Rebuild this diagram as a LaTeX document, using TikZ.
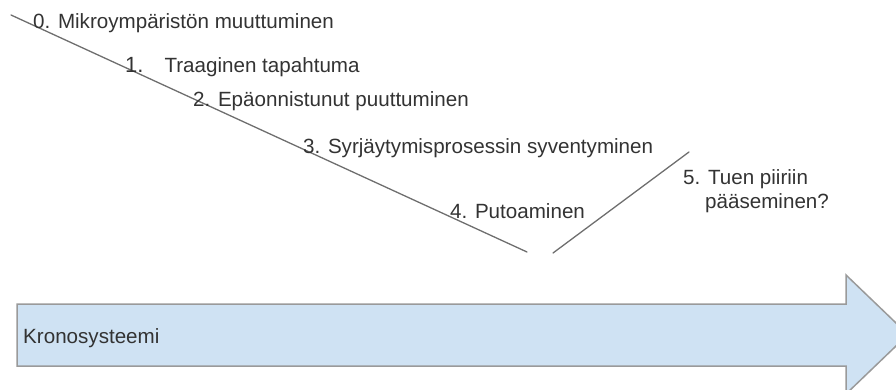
\documentclass[tikz,border=0pt]{standalone}
\usepackage{fontspec}
\setmainfont{Liberation Sans}
\definecolor{txt}{HTML}{333333}
\definecolor{ln}{HTML}{6E6E6E}
\definecolor{arrfill}{HTML}{CFE2F3}
\definecolor{arrdraw}{HTML}{9A9A9A}
\begin{document}
\begin{tikzpicture}[x=1pt,y=-1pt,
  lbl/.style={anchor=base west,inner sep=0pt,text=txt,font=\fontsize{20.6}{23}\selectfont},
  timeline/.style={draw=ln,line width=1.3pt,line cap=round}]
\useasboundingbox (0,0) rectangle (896,390);
\clip (0,0) rectangle (896,390);
% big arrow
\draw[fill=arrfill,draw=arrdraw,line width=1.5pt,line join=miter]
  (17,304) -- (846,304) -- (846,275) -- (908,334.5) -- (846,394) -- (846,366) -- (17,366) -- cycle;
\node[lbl] (kr) at (23,343) {Kronosysteemi};
% lines
\coordinate (a0) at (11,15);
\coordinate (a1) at (527,252);
\coordinate (b0) at (553,253);
\coordinate (b1) at (689,152);
\draw[timeline] (a0) -- (a1);
\draw[timeline] (b0) -- (b1);
% labels
\node[lbl] (t0) at (33,29) {0. Mikroympäristön muuttuminen};
\node[lbl] (t1) at (125,73) {{\fontsize{22}{23}\selectfont 1.}\hspace{21pt}Traaginen tapahtuma};
\node[lbl] (t2) at (193,107) {2. Epäonnistunut puuttuminen};
\node[lbl] (t3) at (303,154) {3. Syrjäytymisprosessin syventyminen};
\node[lbl] (t4) at (450,218) {4. Putoaminen};
\node[lbl] (t5) at (683,185) {5. Tuen piiriin};
\node[lbl] (t5b) at (705,208) {pääseminen?};
\end{tikzpicture}
\end{document}
